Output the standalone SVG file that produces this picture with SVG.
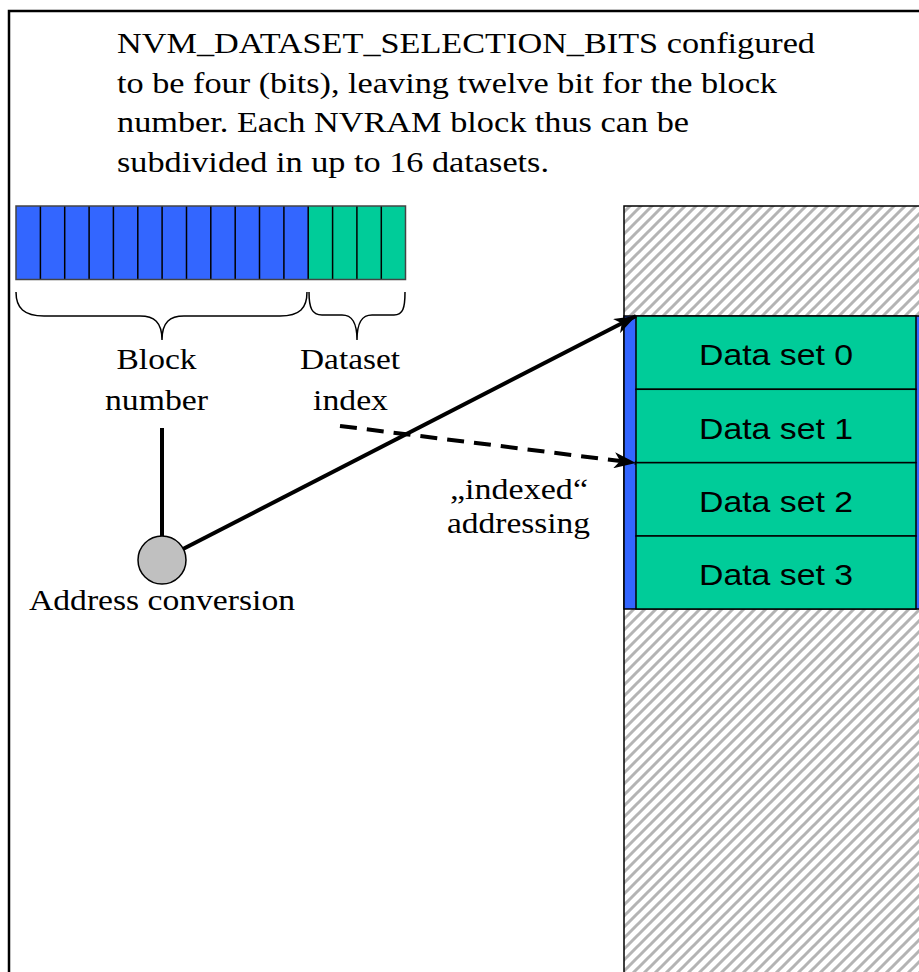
<svg xmlns="http://www.w3.org/2000/svg" width="919" height="972" viewBox="0 0 919 972">
<defs>
<pattern id="hatch" patternUnits="userSpaceOnUse" width="11" height="11">
<rect width="11" height="11" fill="#ffffff"/>
<path d="M-2,2 L2,-2 M0,11 L11,0 M9,13 L13,9" stroke="#b4b4b4" stroke-width="3"/>
</pattern>
<marker id="arr" markerUnits="userSpaceOnUse" markerWidth="24" markerHeight="16" refX="22" refY="8" orient="auto">
<path d="M0,0 L22,8 L0,16 L6,8 z" fill="#000"/>
</marker>
</defs>
<style>
.serif{font-family:"Liberation Serif","Times New Roman",serif;font-size:30px;fill:#000}
.sans{font-family:"Liberation Sans",Arial,sans-serif;font-size:30px;fill:#000}
.blue{fill:#3366ff;stroke:#000;stroke-width:1.5}
.green{fill:#00cc99;stroke:#000;stroke-width:1.5}
.line{stroke:#000;stroke-width:4;fill:none}
</style>
<rect x="9" y="11" width="930" height="980" fill="#fff" stroke="#000" stroke-width="2.5"/>

<g id="title">
<text class="serif" x="117" y="53" textLength="698" lengthAdjust="spacingAndGlyphs">NVM_DATASET_SELECTION_BITS configured</text>
<text class="serif" x="117" y="93" textLength="660" lengthAdjust="spacingAndGlyphs">to be four (bits), leaving twelve bit for the block</text>
<text class="serif" x="117" y="132" textLength="572" lengthAdjust="spacingAndGlyphs">number. Each NVRAM block thus can be</text>
<text class="serif" x="117" y="172" textLength="432" lengthAdjust="spacingAndGlyphs">subdivided in up to 16 datasets.</text>
</g>

<g id="register">
<rect x="16" y="206" width="292" height="73.5" fill="#3366ff"/>
<rect x="308" y="206" width="97.5" height="73.5" fill="#00cc99"/>
<path d="M40.4,206V279.5M64.7,206V279.5M89.1,206V279.5M113.4,206V279.5M137.8,206V279.5M162.1,206V279.5M186.5,206V279.5M210.8,206V279.5M235.2,206V279.5M259.5,206V279.5M283.9,206V279.5M308.2,206V279.5M332.6,206V279.5M356.9,206V279.5M381.3,206V279.5" stroke="#000" stroke-width="1.5"/>
<rect x="16" y="206" width="389.5" height="73.5" fill="none" stroke="#444" stroke-width="1.5"/>
</g>

<g id="braces" fill="none" stroke="#000" stroke-width="1.5">
<path d="M16,292 C16,308 24,316 44,316 L140,316 C154,316 162,322 162,340 C162,322 170,316 184,316 L280,316 C300,316 307,308 307,292"/>
<path d="M309,292 C309,308 312,315 322,315 L342,315 C352,315 357,322 357,340 C357,322 362,315 372,315 L394,315 C403,315 405,308 405,292"/>
</g>

<g id="labels">
<text class="serif" x="156.5" y="369" text-anchor="middle" textLength="80" lengthAdjust="spacingAndGlyphs">Block</text>
<text class="serif" x="156.5" y="410" text-anchor="middle" textLength="103" lengthAdjust="spacingAndGlyphs">number</text>
<text class="serif" x="350" y="369" text-anchor="middle" textLength="100" lengthAdjust="spacingAndGlyphs">Dataset</text>
<text class="serif" x="350.5" y="410" text-anchor="middle" textLength="75" lengthAdjust="spacingAndGlyphs">index</text>
</g>

<g id="memory">
<rect x="624" y="206" width="310" height="780" fill="url(#hatch)" stroke="#000" stroke-width="1.5"/>
<rect class="blue" x="624" y="316" width="310" height="293"/>
<g id="ds0"><rect class="green" x="636" y="316" width="280" height="73.3"/><text class="sans" x="776" y="365" text-anchor="middle" textLength="154" lengthAdjust="spacingAndGlyphs">Data set 0</text></g>
<g id="ds1"><rect class="green" x="636" y="389.3" width="280" height="73.3"/><text class="sans" x="776" y="438.5" text-anchor="middle" textLength="154" lengthAdjust="spacingAndGlyphs">Data set 1</text></g>
<g id="ds2"><rect class="green" x="636" y="462.7" width="280" height="73.3"/><text class="sans" x="776" y="512" text-anchor="middle" textLength="154" lengthAdjust="spacingAndGlyphs">Data set 2</text></g>
<g id="ds3"><rect class="green" x="636" y="536" width="280" height="73"/><text class="sans" x="776" y="585" text-anchor="middle" textLength="154" lengthAdjust="spacingAndGlyphs">Data set 3</text></g>
</g>

<g id="connectors">
<line class="line" x1="162" y1="428" x2="162" y2="536"/>
<line class="line" x1="183" y1="549" x2="636" y2="316" marker-end="url(#arr)"/>
<line class="line" x1="340" y1="426" x2="636" y2="463" stroke-dasharray="17,10" marker-end="url(#arr)"/>
</g>

<g id="address-conversion">
<circle cx="162" cy="560" r="24" fill="#c0c0c0" stroke="#000" stroke-width="1.5"/>
<text class="serif" x="162" y="610" text-anchor="middle" textLength="266" lengthAdjust="spacingAndGlyphs">Address conversion</text>
</g>

<g id="indexed-label">
<text class="serif" x="519" y="499" text-anchor="middle" textLength="138" lengthAdjust="spacingAndGlyphs">„indexed“</text>
<text class="serif" x="518.5" y="533" text-anchor="middle" textLength="143" lengthAdjust="spacingAndGlyphs">addressing</text>
</g>
</svg>
